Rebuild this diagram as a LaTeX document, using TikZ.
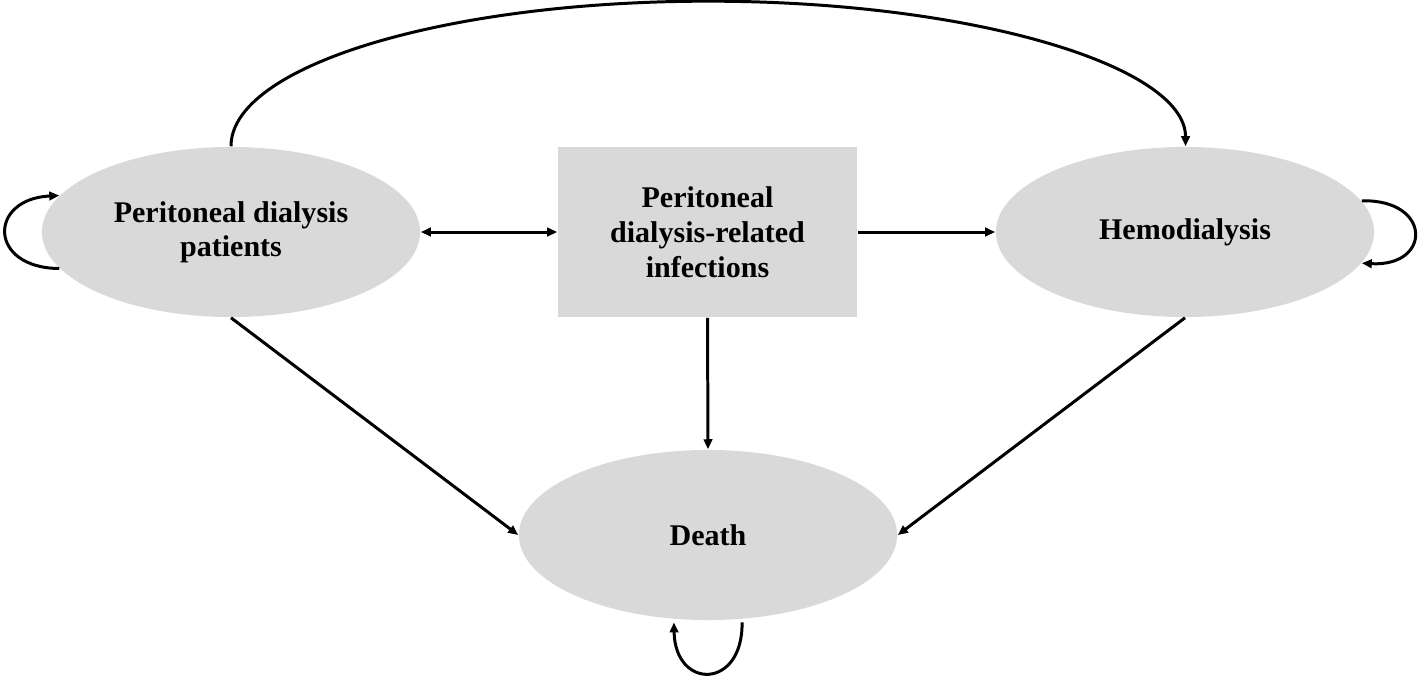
\documentclass[tikz,border=0pt]{standalone}
\usepackage{fontspec}
\setmainfont{Liberation Serif}
\usetikzlibrary{arrows.meta,shapes.geometric}
\definecolor{boxgray}{HTML}{D9D9D9}
\tikzset{
  state/.style={ellipse, fill=boxgray, minimum width=3.78cm, minimum height=1.70cm, inner sep=0pt,
    align=center, font=\fontsize{8.54}{9.7}\selectfont\bfseries},
  infbox/.style={rectangle, fill=boxgray, minimum width=2.99cm, minimum height=1.70cm, inner sep=0pt,
    align=center, font=\fontsize{8.54}{9.9}\selectfont\bfseries},
  conn/.style={line width=0.85pt, -{Triangle[length=0.1cm,width=0.085cm]}},
  biconn/.style={line width=0.85pt, {Triangle[length=0.1cm,width=0.085cm]}-{Triangle[length=0.1cm,width=0.085cm]}}
}
\begin{document}
\begin{tikzpicture}[x=0.01cm,y=-0.01cm]
\path[use as bounding box, fill=white] (0,0) rectangle (1418,678);
\node[state] (pd) at (231,232) {Peritoneal dialysis\\patients};
\node[infbox] (inf) at (707.5,232) {Peritoneal\\dialysis-related\\infections};
\node[state] (hd) at (1185,232) {Hemodialysis};
\node[state] (death) at (708,535) {Death};

\draw[conn] (pd.north) arc[start angle=180, end angle=0, x radius=4.77cm, y radius=1.45cm];
\draw[biconn] (pd.east) -- (inf.west);
\draw[conn] (inf.east) -- (hd.west);
\draw[conn] (inf.south) -- (death.north);
\draw[conn] (pd.south) -- (death.west);
\draw[conn] (hd.south) -- (death.east);

\draw[conn] (pd.192) .. controls (-12,268) and (-12,199) .. (pd.168);
\draw[conn] (hd.10) .. controls (1432,199) and (1432,267) .. (hd.350);
\draw[conn] ([yshift=-0.03cm]death.292) .. controls (743,690) and (675,690) .. ([yshift=-0.03cm]death.248);
\end{tikzpicture}
\end{document}
